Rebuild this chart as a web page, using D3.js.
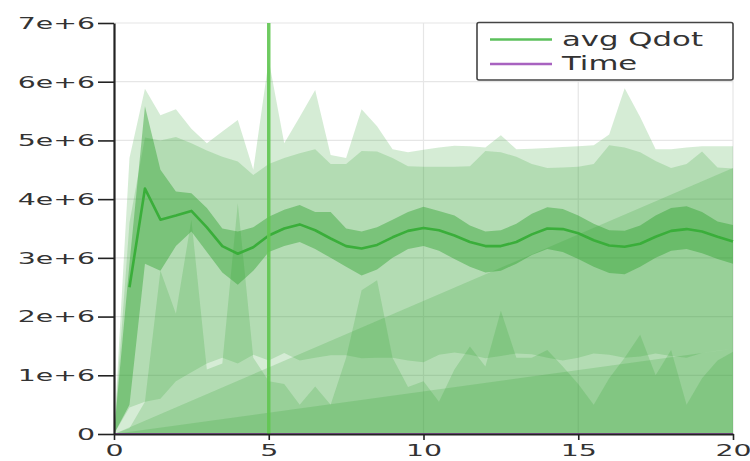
<!DOCTYPE html>
<html>
<head>
<meta charset="utf-8">
<script src="https://cdn.jsdelivr.net/npm/d3@7"></script>
<style>
  html, body { margin: 0; padding: 0; background: #fff; }
  svg { display: block; }
  text { font-family: "DejaVu Sans", sans-serif; fill: #333; }
</style>
</head>
<body>
<svg id="chart" width="750" height="461"></svg>
<script>
// ---------------- data ----------------
const time = [0, 0.5, 1, 1.5, 2, 2.5, 3, 3.5, 4, 4.5, 5, 5.5, 6, 6.5, 7, 7.5, 8, 8.5, 9, 9.5,
              10, 10.5, 11, 11.5, 12, 12.5, 13, 13.5, 14, 14.5, 15, 15.5, 16, 16.5, 17, 17.5, 18, 18.5, 19, 19.5, 20];

// max of Qdot (lightest band top)
const maxQdot = [0, 4.70e6, 5.88e6, 5.43e6, 5.53e6, 5.20e6, 4.95e6, 5.15e6, 5.35e6, 4.50e6, 6.37e6,
                 4.95e6, 5.40e6, 5.86e6, 4.75e6, 4.70e6, 5.53e6, 5.24e6, 4.85e6, 4.80e6, 4.84e6,
                 4.88e6, 4.91e6, 4.90e6, 4.88e6, 5.09e6, 4.85e6, 4.86e6, 4.87e6, 4.89e6, 4.90e6,
                 4.92e6, 5.10e6, 5.89e6, 5.40e6, 4.85e6, 4.85e6, 4.88e6, 4.90e6, 4.90e6, 4.90e6];
// upper quartile band
const q3Qdot = [0, 3.60e6, 5.05e6, 5.00e6, 5.06e6, 4.95e6, 4.83e6, 4.72e6, 4.64e6, 4.41e6, 4.60e6,
                4.70e6, 4.78e6, 4.85e6, 4.60e6, 4.60e6, 4.82e6, 4.81e6, 4.70e6, 4.56e6, 4.55e6,
                4.55e6, 4.55e6, 4.56e6, 4.82e6, 4.80e6, 4.72e6, 4.60e6, 4.53e6, 4.54e6, 4.55e6,
                4.60e6, 4.92e6, 4.88e6, 4.80e6, 4.65e6, 4.53e6, 4.60e6, 4.81e6, 4.54e6, 4.52e6];
const q1Qdot = [0, 0.45e6, 0.55e6, 0.60e6, 0.90e6, 1.05e6, 1.20e6, 1.30e6, 1.20e6, 1.35e6, 1.25e6,
                1.38e6, 1.25e6, 1.30e6, 1.34e6, 1.34e6, 1.29e6, 1.30e6, 1.30e6, 1.25e6, 1.22e6,
                1.35e6, 1.39e6, 1.35e6, 1.29e6, 1.33e6, 1.37e6, 1.36e6, 1.30e6, 1.25e6, 1.30e6,
                1.37e6, 1.35e6, 1.30e6, 1.32e6, 1.37e6, 1.33e6, 1.30e6, 1.38e6, 1.42e6, 1.45e6];
// median-like jagged series (filled from zero)
const medQdot = [0, 0.10e6, 0.55e6, 2.78e6, 2.05e6, 3.65e6, 1.10e6, 1.20e6, 3.93e6, 1.30e6, 0.90e6,
                 0.85e6, 0.50e6, 0.81e6, 0.50e6, 1.30e6, 2.45e6, 2.62e6, 1.30e6, 0.80e6, 0.90e6,
                 0.55e6, 1.10e6, 1.49e6, 1.15e6, 2.10e6, 1.30e6, 1.30e6, 1.43e6, 1.15e6, 0.85e6,
                 0.50e6, 0.95e6, 1.30e6, 1.69e6, 1.00e6, 1.43e6, 0.50e6, 0.95e6, 1.25e6, 1.40e6];
// average and its +/- std band
const avgQdot = [null, 2.50e6, 4.18e6, 3.65e6, 3.72e6, 3.80e6, 3.52e6, 3.20e6, 3.07e6, 3.18e6, 3.38e6,
                 3.50e6, 3.57e6, 3.47e6, 3.33e6, 3.20e6, 3.16e6, 3.22e6, 3.35e6, 3.46e6, 3.51e6,
                 3.47e6, 3.38e6, 3.27e6, 3.20e6, 3.20e6, 3.27e6, 3.40e6, 3.50e6, 3.49e6, 3.42e6,
                 3.30e6, 3.21e6, 3.19e6, 3.24e6, 3.36e6, 3.46e6, 3.49e6, 3.45e6, 3.36e6, 3.28e6];
const stdHigh = [0, 2.90e6, 5.58e6, 4.50e6, 4.13e6, 4.10e6, 3.85e6, 3.50e6, 3.45e6, 3.52e6, 3.70e6,
                 3.82e6, 3.90e6, 3.78e6, 3.78e6, 3.50e6, 3.45e6, 3.52e6, 3.65e6, 3.78e6, 3.87e6,
                 3.80e6, 3.72e6, 3.55e6, 3.45e6, 3.47e6, 3.58e6, 3.75e6, 3.86e6, 3.83e6, 3.72e6,
                 3.58e6, 3.47e6, 3.46e6, 3.55e6, 3.72e6, 3.85e6, 3.88e6, 3.78e6, 3.62e6, 3.56e6];
const stdLow = [0, 0.50e6, 2.90e6, 2.78e6, 3.20e6, 3.45e6, 3.10e6, 2.75e6, 2.54e6, 2.78e6, 3.10e6,
                3.20e6, 3.27e6, 3.15e6, 3.00e6, 2.85e6, 2.70e6, 2.80e6, 3.00e6, 3.15e6, 3.20e6,
                3.12e6, 2.98e6, 2.85e6, 2.75e6, 2.78e6, 2.90e6, 3.05e6, 3.15e6, 3.10e6, 2.98e6,
                2.85e6, 2.74e6, 2.72e6, 2.85e6, 3.00e6, 3.12e6, 3.15e6, 3.08e6, 2.98e6, 2.90e6];
// straight-growing series
const rampTime = [0, 20];
const rampHigh = [0, 4.53e6];
const rampLow = [0, 1.45e6];
// Time series (plotted against itself)
const timeValues = time.slice();

const currentTime = 5;
const yTicks = [0, 1e6, 2e6, 3e6, 4e6, 5e6, 6e6, 7e6];
const yTickLabels = ["0", "1e+6", "2e+6", "3e+6", "4e+6", "5e+6", "6e+6", "7e+6"];
const xTicks = [0, 5, 10, 15, 20];
const legendLabels = ["avg Qdot", "Time"];
const legendColors = ["#5cc05c", "#a862c0"];

// ---------------- chart ----------------
const svg = d3.select("#chart");
const x = d3.scaleLinear().domain([0, 20]).range([114, 733]);
const y = d3.scaleLinear().domain([0, 7e6]).range([434, 23]);
const SX = 1.72; // horizontal stretch of the lettering

const green = "#2ca02c";

// grid
const grid = svg.append("g");
grid.selectAll("line.h").data(yTicks.slice(1)).join("line")
  .attr("x1", x(0)).attr("x2", x(20))
  .attr("y1", d => y(d)).attr("y2", d => y(d))
  .attr("stroke", "#e6e6e6").attr("stroke-width", 1.2);
grid.selectAll("line.v").data(xTicks.slice(1)).join("line")
  .attr("y1", y(0)).attr("y2", y(7e6))
  .attr("x1", d => x(d)).attr("x2", d => x(d))
  .attr("stroke", "#e6e6e6").attr("stroke-width", 1.2);

function band(lo, hi, xs) {
  return d3.area()
    .x((d, i) => x(xs[i]))
    .y0((d, i) => y(lo ? lo[i] : 0))
    .y1((d, i) => y(hi[i]))(hi);
}

const bands = svg.append("g");
const bandDefs = [
  { lo: null, hi: maxQdot, xs: time, op: 0.2 },
  { lo: q1Qdot, hi: q3Qdot, xs: time, op: 0.2 },
  { lo: null, hi: rampHigh, xs: rampTime, op: 0.2 },
  { lo: null, hi: rampLow, xs: rampTime, op: 0.2 },
  { lo: null, hi: medQdot, xs: time, op: 0.2 },
  { lo: stdLow, hi: stdHigh, xs: time, op: 0.42 }
];
bandDefs.forEach(b => {
  bands.append("path")
    .attr("d", band(b.lo, b.hi, b.xs))
    .attr("fill", green)
    .attr("fill-opacity", b.op);
});

// Time line (tiny values, hugs the axis)
svg.append("path")
  .attr("d", d3.line().x((d, i) => x(time[i])).y(d => y(d))(timeValues))
  .attr("fill", "none").attr("stroke", legendColors[1]).attr("stroke-width", 2);

// avg line
svg.append("path")
  .attr("d", d3.line().defined(d => d !== null)
    .x((d, i) => x(time[i])).y(d => y(d))(avgQdot))
  .attr("fill", "none").attr("stroke", "#3aae3a").attr("stroke-width", 2.6)
  .attr("stroke-linejoin", "round");

// current time marker
svg.append("line")
  .attr("x1", x(currentTime)).attr("x2", x(currentTime))
  .attr("y1", y(7e6)).attr("y2", y(0))
  .attr("stroke", "#62c652").attr("stroke-width", 3.5).attr("stroke-opacity", 0.9);

// axes
const yAxis = svg.append("g").attr("transform", `translate(${x(0)},0)`)
  .call(d3.axisLeft(y).tickValues(yTicks).tickFormat((d, i) => yTickLabels[i])
    .tickSizeInner(16).tickSizeOuter(0).tickPadding(3));
const xAxis = svg.append("g").attr("transform", `translate(0,${y(0)})`)
  .call(d3.axisBottom(x).tickValues(xTicks).tickFormat(d3.format("d"))
    .tickSizeInner(6).tickSizeOuter(0).tickPadding(3));

[yAxis, xAxis].forEach(ax => {
  ax.select(".domain").attr("stroke", "#222").attr("stroke-width", 2.2);
  ax.selectAll(".tick line").attr("stroke", "#222").attr("stroke-width", 1.6);
  ax.selectAll("text").attr("font-family", "DejaVu Sans").attr("font-size", 16.5).attr("fill", "#333");
});
yAxis.selectAll("text")
  .attr("x", -19 / SX)
  .attr("transform", `scale(${SX},1)`);
xAxis.selectAll("text")
  .attr("y", 10)
  .attr("transform", `scale(${SX},1)`)
  .attr("x", function () {
    return 0;
  });

// legend
const lg = svg.append("g");
lg.append("rect")
  .attr("x", 477).attr("y", 22.5).attr("width", 256).attr("height", 57.5)
  .attr("rx", 2).attr("fill", "#fff").attr("stroke", "#444").attr("stroke-width", 1.6);
legendLabels.forEach((lab, i) => {
  const ly = 39.5 + i * 24.5;
  lg.append("line").attr("x1", 490).attr("x2", 552).attr("y1", ly).attr("y2", ly)
    .attr("stroke", legendColors[i]).attr("stroke-width", 2.4);
  lg.append("text")
    .attr("x", 562 / 1.62).attr("y", ly + 6.5)
    .attr("transform", "scale(1.62,1)")
    .attr("font-size", 19).attr("fill", "#333")
    .text(lab);
});
</script>
</body>
</html>
